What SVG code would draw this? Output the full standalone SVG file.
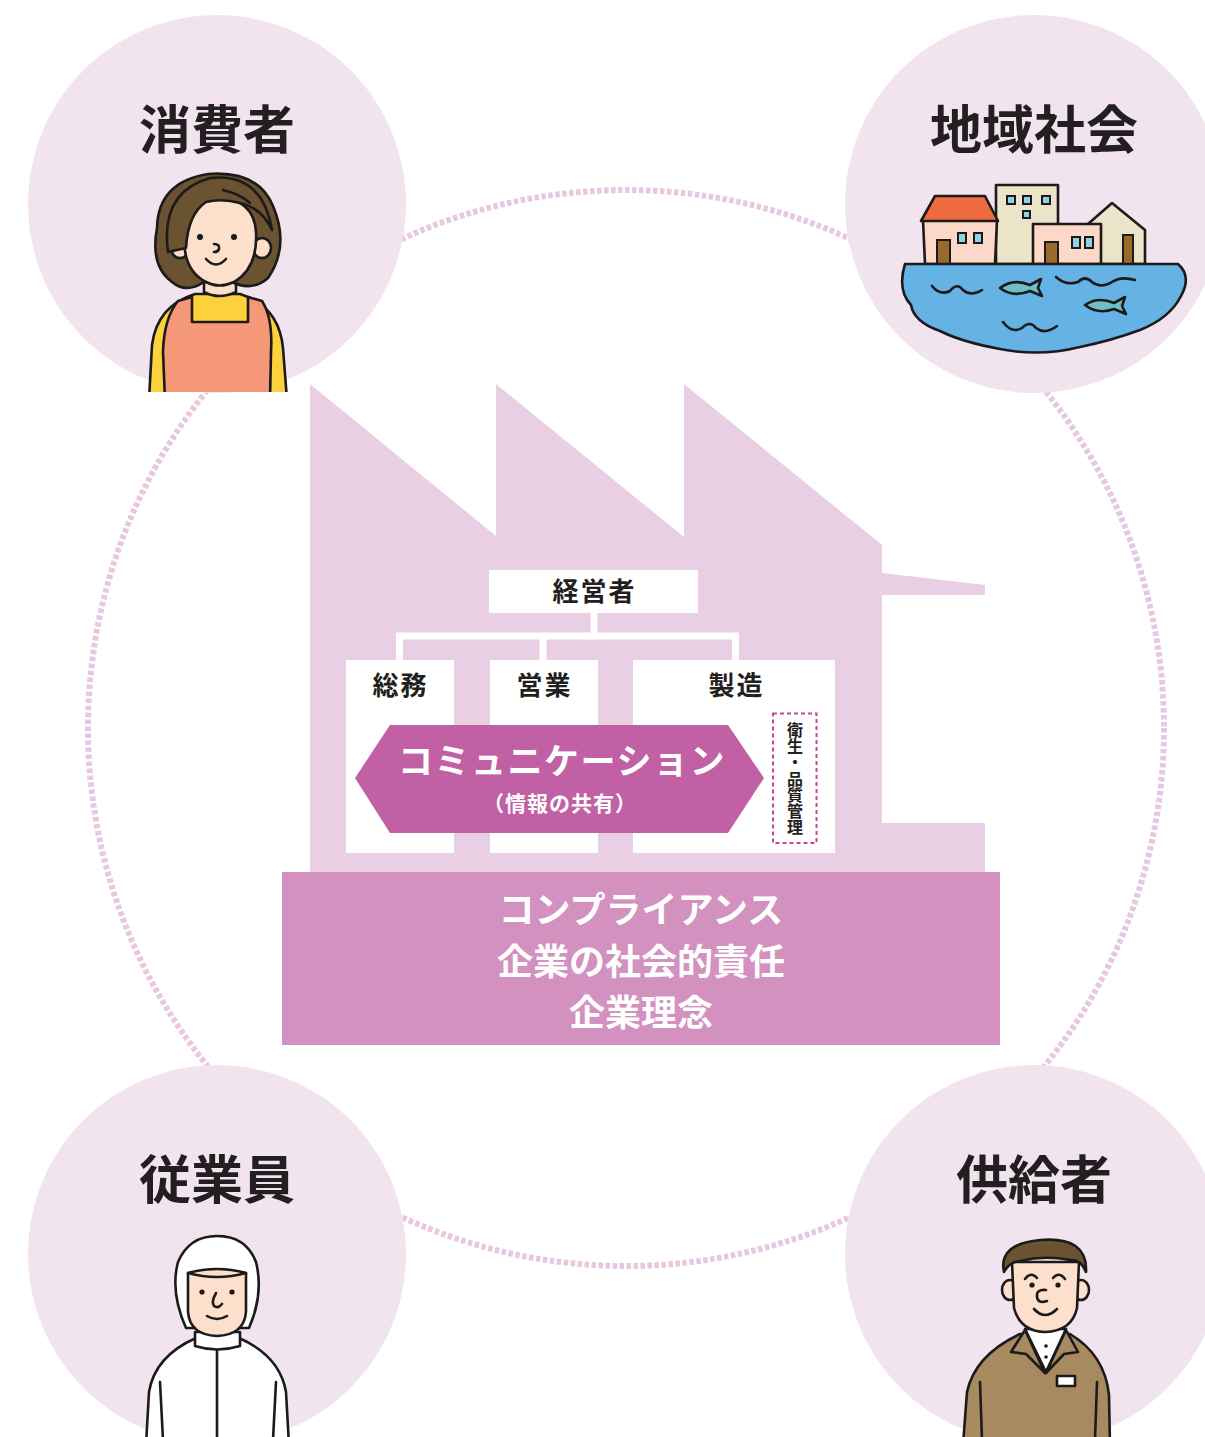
<svg xmlns="http://www.w3.org/2000/svg" width="1205" height="1437" viewBox="0 0 1205 1437">
  <style>
    .disc { fill: #f2e4ef; }
    .head { font-family: "Noto Sans CJK JP", "Noto Sans", sans-serif; font-weight: 700; font-size: 52px; fill: #231f20; text-anchor: middle; }
    .org { font-family: "Noto Sans CJK JP", "Noto Sans", sans-serif; font-weight: 700; font-size: 26px; fill: #231f20; text-anchor: middle; letter-spacing: 2px; }
    .vert { font-family: "Noto Sans CJK JP", "Noto Sans", sans-serif; font-weight: 700; font-size: 16px; fill: #231f20; text-anchor: middle; }
    .wtext { font-family: "Noto Sans CJK JP", "Noto Sans", sans-serif; font-weight: 700; fill: #ffffff; text-anchor: middle; }
    .box { fill: #ffffff; }
    .ink { stroke: #1c1a1a; stroke-width: 2.6; stroke-linejoin: round; stroke-linecap: round; }
    .line { fill: none; stroke: #1c1a1a; stroke-width: 2.6; stroke-linecap: round; stroke-linejoin: round; }
    .skin { fill: #fde0cc; }
    .dot { fill: #1c1a1a; }
    .win { fill: #8fd3e3; stroke: #1c1a1a; stroke-width: 2; }
    .door { fill: #9a6a2c; stroke: #1c1a1a; stroke-width: 2; }
  </style>
  <defs>
    <clipPath id="clipTop"><rect x="0" y="0" width="1205" height="392"/></clipPath>
  </defs>

  <!-- connectors: the dashed ring linking the stakeholders -->
  <g id="connectors">
    <circle cx="626" cy="728" r="538" fill="none" stroke="#e8c8e0" stroke-width="6" stroke-dasharray="4.5 2.5"/>
  </g>

  <!-- consumer -->
  <g id="consumer">
    <circle class="disc" cx="217" cy="204" r="189"/>
    <text class="head" x="217" y="149">消費者</text>
    <g clip-path="url(#clipTop)">
      <!-- sweater -->
      <path class="ink" fill="#fcd23c" d="M149,400 L152,345 Q157,306 195,294 L240,294 Q279,306 283,348 L287,400 Z"/>
      <!-- apron -->
      <path class="ink" fill="#f59878" d="M165,400 L163,352 Q164,318 178,301 L192,297 L192,322 L248,322 L248,297 L262,301 Q273,318 271,352 L270,400 Z"/>
      <!-- neck -->
      <path class="ink skin" d="M204,278 L204,292 Q219,300 236,292 L236,278 Z"/>
      <!-- hair back -->
      <path class="ink" fill="#6b5230" d="M172,282 Q150,266 157,228 Q158,182 208,174 Q258,170 273,206 Q290,246 268,278 Q252,292 232,282 L204,282 Q186,294 172,282 Z"/>
      <!-- ears -->
      <ellipse class="ink skin" cx="180" cy="248" rx="9" ry="10"/>
      <ellipse class="ink skin" cx="262" cy="248" rx="9" ry="10"/>
      <!-- face -->
      <path class="ink skin" d="M184,232 Q182,270 206,282 Q219,289 234,282 Q258,268 256,232 Q254,200 220,198 Q186,200 184,232 Z"/>
      <!-- bangs -->
      <path class="ink" fill="#6b5230" d="M168,252 Q160,192 210,178 Q262,172 272,230 Q262,208 240,203 Q222,198 206,202 Q188,214 186,248 Z"/>
      <path class="line" d="M223,190 Q240,194 250,203"/>
      <!-- features -->
      <circle class="dot" cx="200" cy="237" r="3"/>
      <circle class="dot" cx="234" cy="237" r="3"/>
      <path class="line" d="M214,244 Q220,244 219,249 Q218,252 214,252"/>
      <path class="line" d="M206,259 Q216,270 226,259"/>
    </g>
  </g>

  <!-- community -->
  <g id="community">
    <circle class="disc" cx="1034" cy="204" r="189"/>
    <text class="head" x="1034" y="149">地域社会</text>
    <!-- tall building -->
    <rect class="ink" fill="#ebe4c8" x="996" y="185" width="62" height="79"/>
    <rect class="win" x="1007" y="196" width="8" height="8"/>
    <rect class="win" x="1023" y="196" width="8" height="8"/>
    <rect class="win" x="1042" y="196" width="8" height="8"/>
    <rect class="win" x="1023" y="211" width="7" height="7"/>
    <!-- gabled house -->
    <path class="ink" fill="#ebe4c8" d="M1088,224 L1112,203 L1145,230 L1145,264 L1088,264 Z"/>
    <rect class="door" x="1123" y="235" width="10" height="29"/>
    <!-- red-roofed house -->
    <path class="ink" fill="#fcd8c8" d="M923,220 L997,220 L995,264 L925,264 Z"/>
    <path class="ink" fill="#f06a40" d="M921,221 L935,196 L985,196 L998,221 Z"/>
    <rect class="door" x="937" y="240" width="13" height="24"/>
    <rect class="win" x="958" y="233" width="8" height="10"/>
    <rect class="win" x="974" y="233" width="8" height="10"/>
    <!-- pink house -->
    <rect class="ink" fill="#fcd8c8" x="1033" y="224" width="68" height="40"/>
    <rect class="door" x="1045" y="242" width="13" height="22"/>
    <rect class="win" x="1072" y="237" width="8" height="11"/>
    <rect class="win" x="1085" y="237" width="8" height="11"/>
    <!-- water -->
    <path class="ink" fill="#64b3e4" d="M905,264 L1178,264 Q1192,276 1181,296 Q1170,318 1140,330 Q1110,341 1080,347 Q1040,357 1000,349 Q962,342 940,331 Q914,322 911,305 Q897,290 905,264 Z"/>
    <path class="line" d="M932,286 Q940,296 950,291 Q957,282 963,290 Q971,297 982,290"/>
    <path class="line" d="M1056,277 Q1066,286 1078,282 Q1085,275 1092,282 Q1101,289 1112,282 Q1121,276 1135,280"/>
    <path class="line" d="M1003,322 Q1012,334 1022,328 Q1030,320 1036,328 Q1045,335 1057,326"/>
    <!-- fish -->
    <path class="ink" fill="#6cc0c6" d="M1000,288 Q1013,278 1030,285 L1041,279 L1038,288 L1042,296 L1030,291 Q1013,298 1000,288 Z"/>
    <path class="ink" fill="#6cc0c6" d="M1085,305 Q1098,296 1114,303 L1125,297 L1122,306 L1126,314 L1114,309 Q1098,315 1085,305 Z"/>
  </g>

  <!-- employee -->
  <g id="employee">
    <circle class="disc" cx="217" cy="1254" r="189"/>
    <text class="head" x="217" y="1199">従業員</text>
    <!-- suit -->
    <path class="ink" fill="#ffffff" d="M146,1445 L149,1392 Q155,1356 196,1338 L239,1338 Q280,1356 286,1392 L289,1445 Z"/>
    <path class="line" d="M217,1346 L217,1440"/>
    <path class="line" d="M160,1382 L163,1440"/>
    <path class="line" d="M276,1382 L273,1440"/>
    <!-- hood -->
    <path class="ink" fill="#ffffff" d="M186,1328 Q170,1292 178,1262 Q189,1236 217,1236 Q246,1236 256,1262 Q264,1294 249,1328 Z"/>
    <!-- collar -->
    <path class="ink" fill="#ffffff" d="M195,1332 L195,1346 Q217,1353 240,1346 L240,1332 Z"/>
    <!-- face -->
    <path class="ink skin" d="M188,1273 Q217,1265 246,1273 L246,1312 Q244,1335 217,1336 Q190,1335 188,1312 Z"/>
    <path class="line" d="M188,1273 Q217,1281 246,1273"/>
    <circle class="dot" cx="202" cy="1292" r="2.6"/>
    <circle class="dot" cx="232" cy="1292" r="2.6"/>
    <path class="line" d="M216,1293 Q211,1302 214,1306 Q218,1309 222,1304"/>
    <path class="line" d="M207,1316 Q217,1322 227,1316"/>
  </g>

  <!-- supplier -->
  <g id="supplier">
    <circle class="disc" cx="1034" cy="1254" r="189"/>
    <text class="head" x="1034" y="1199">供給者</text>
    <!-- sweater -->
    <path class="ink" fill="#a88a60" d="M963,1445 L967,1392 Q975,1355 1020,1334 L1070,1334 Q1105,1355 1109,1395 L1110,1445 Z"/>
    <path class="line" d="M980,1382 L982,1440"/>
    <path class="line" d="M1097,1382 L1095,1440"/>
    <!-- shirt -->
    <path class="ink" fill="#ffffff" d="M1025,1329 L1066,1329 L1046,1372 Z"/>
    <circle class="dot" cx="1046" cy="1346" r="1.8"/>
    <circle class="dot" cx="1046" cy="1357" r="1.8"/>
    <path class="ink" fill="#a88a60" d="M1025,1330 L1011,1352 L1026,1354 L1045,1373 Z"/>
    <path class="ink" fill="#a88a60" d="M1066,1330 L1078,1352 L1064,1354 L1046,1373 Z"/>
    <rect class="ink" fill="#ffffff" x="1057" y="1376" width="18" height="10"/>
    <!-- ears -->
    <ellipse class="ink skin" cx="1010" cy="1290" rx="8" ry="10"/>
    <ellipse class="ink skin" cx="1081" cy="1290" rx="8" ry="10"/>
    <!-- face -->
    <path class="ink skin" d="M1012,1262 L1014,1308 Q1020,1331 1045,1332 Q1072,1331 1077,1308 L1079,1262 Z"/>
    <!-- hair -->
    <path class="ink" fill="#6b5230" d="M1004,1272 Q998,1244 1040,1240 Q1088,1236 1086,1272 Q1081,1259 1070,1260 Q1045,1255 1020,1261 Q1009,1262 1004,1272 Z"/>
    <path class="line" d="M1025,1279 Q1031,1271 1037,1278"/>
    <path class="line" d="M1053,1278 Q1059,1271 1065,1279"/>
    <circle class="dot" cx="1032" cy="1285" r="2.6"/>
    <circle class="dot" cx="1058" cy="1285" r="2.6"/>
    <path class="line" d="M1046,1290 Q1036,1289 1037,1297 Q1038,1304 1047,1301"/>
    <path class="line" d="M1034,1309 Q1045,1321 1057,1309"/>
  </g>

  <!-- factory silhouette -->
  <g id="factory">
    <path fill="#e9cfe3" d="M310,384 L496,536 L496,384 L684,537 L684,384 L882,545 L882,573 L985,585 L985,595 L882,595 L882,823 L985,823 L985,872 L310,872 Z"/>
  </g>

  <!-- org chart lines -->
  <g id="org-lines" fill="none" stroke="#ffffff" stroke-width="7">
    <path d="M594,612 L594,636"/>
    <path d="M399.5,661 L399.5,636 L735.5,636 L735.5,661"/>
    <path d="M543,636 L543,661"/>
  </g>

  <g id="management">
    <rect class="box" x="489" y="570" width="209" height="43"/>
    <text class="org" x="594.5" y="601">経営者</text>
  </g>
  <g id="general-affairs">
    <rect class="box" x="346" y="660" width="108" height="193"/>
    <text class="org" x="400.5" y="695">総務</text>
  </g>
  <g id="sales">
    <rect class="box" x="490" y="660" width="108" height="193"/>
    <text class="org" x="544.5" y="695">営業</text>
  </g>
  <g id="manufacturing">
    <rect class="box" x="633" y="660" width="202" height="193"/>
    <text class="org" x="736.5" y="695">製造</text>
  </g>

  <g id="hygiene-quality">
    <rect x="773" y="713.5" width="43.5" height="129.5" fill="none" stroke="#c0489c" stroke-width="2" stroke-dasharray="4 3"/>
    <text class="vert"><tspan x="795" y="736">衛</tspan><tspan x="795" y="752.2">生</tspan><tspan x="795" y="768.4">・</tspan><tspan x="795" y="784.6">品</tspan><tspan x="795" y="800.8">質</tspan><tspan x="795" y="817">管</tspan><tspan x="795" y="833.2">理</tspan></text>
  </g>

  <g id="communication">
    <path fill="#c260a5" d="M355,778 L390,725 L728,725 L764,778 L728,833 L390,833 Z"/>
    <text class="wtext" x="562" y="774" font-size="35" letter-spacing="1.5">コミュニケーション</text>
    <text class="wtext" x="560" y="811" font-size="21" letter-spacing="1">（情報の共有）</text>
  </g>

  <g id="foundation">
    <rect x="282" y="872" width="718" height="173" fill="#d391bf"/>
    <text class="wtext" x="641" y="923" font-size="36">コンプライアンス</text>
    <text class="wtext" x="641" y="975" font-size="36">企業の社会的責任</text>
    <text class="wtext" x="641" y="1026" font-size="36">企業理念</text>
  </g>
</svg>
